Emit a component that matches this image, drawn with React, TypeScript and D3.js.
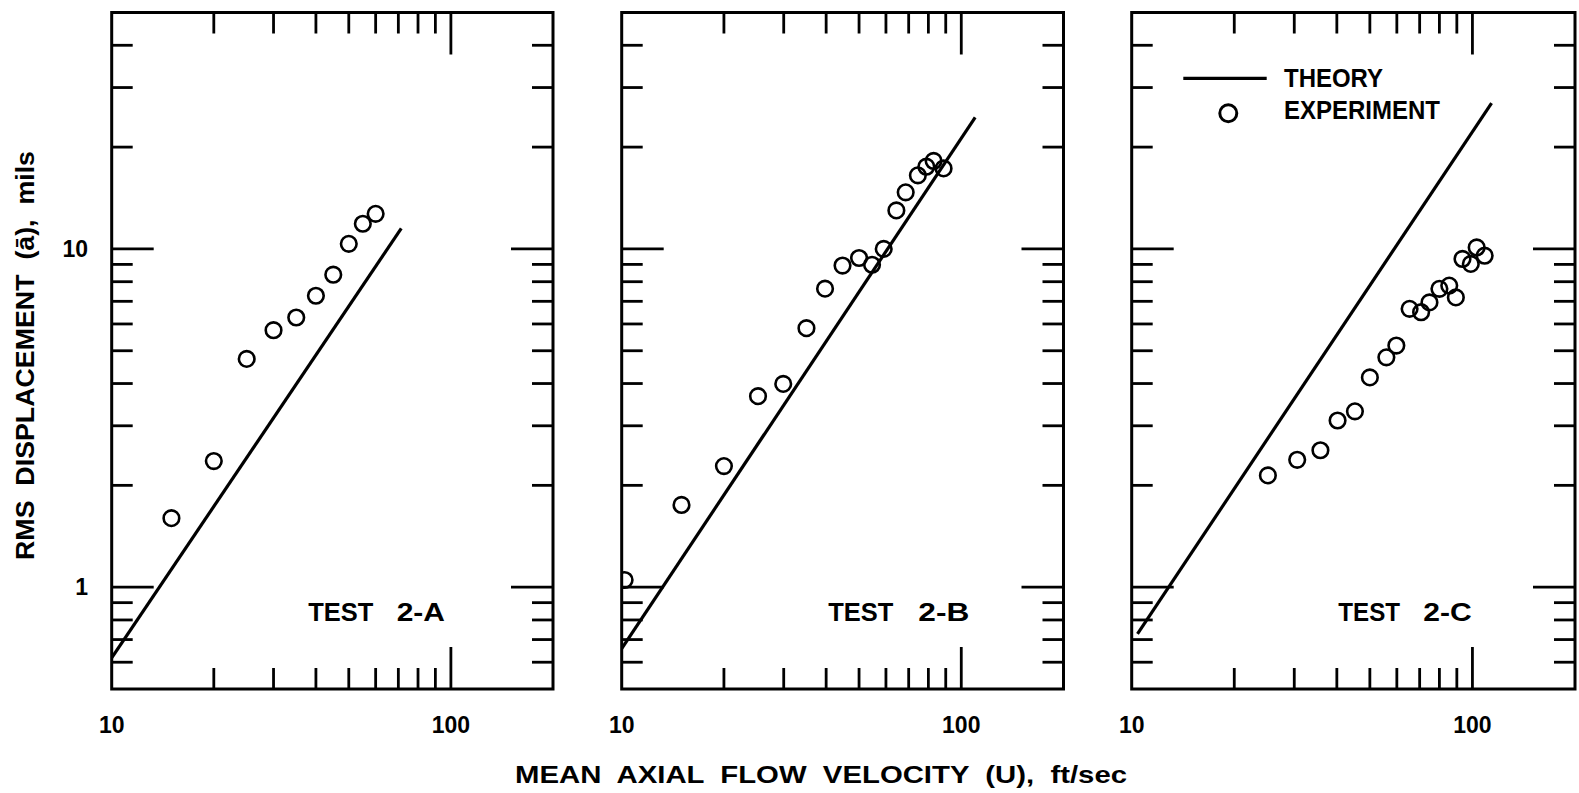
import React from "react";
import * as d3 from "d3";

// ---- data ----
const testA_u = [15, 20, 25, 30, 35, 40, 45, 50, 55, 60];
const testA_a = [1.6, 2.36, 4.73, 5.75, 6.27, 7.27, 8.39, 10.35, 11.87, 12.7];
const theoryA_u = [10, 71.4];
const theoryA_a = [0.618, 11.5];

const testB_u = [10.2, 15, 20, 25.2, 29.9, 35, 39.7, 44.7, 50, 54.6, 59.1, 64.4, 68.6, 74.5, 78.9, 82.9, 88.7];
const testB_a = [1.05, 1.75, 2.28, 3.67, 3.99, 5.83, 7.63, 8.93, 9.4, 8.98, 10.0, 13.0, 14.7, 16.5, 17.5, 18.2, 17.3];
const theoryB_u = [10, 109.9];
const theoryB_a = [0.658, 24.5];

const testC_u = [25.1, 30.6, 35.8, 40.2, 45.2, 50, 55.9, 59.8, 65.4, 70.7, 74.8, 80, 85.5, 89.4, 93.5, 98.9, 102.9, 108.6];
const testC_a = [2.14, 2.38, 2.54, 3.11, 3.31, 4.17, 4.78, 5.18, 6.65, 6.5, 6.95, 7.62, 7.79, 7.19, 9.34, 9.03, 10.1, 9.55];
const theoryC_u = [10.4, 113.8];
const theoryC_a = [0.728, 27.0];

const panelNames = ["TEST", "TEST", "TEST"];
const panelIds = ["2-A", "2-B", "2-C"];

const xDomain = [10, 200];
const yDomain = [0.5, 50];
const xMinorTicks = [20, 30, 40, 50, 60, 70, 80, 90];
const xMajorTicks = [100];
const yMinorTicks = [0.6, 0.7, 0.8, 0.9, 2, 3, 4, 5, 6, 7, 8, 9, 20, 30, 40];
const yMajorTicks = [1, 10];
const xTickLabels = [10, 100];
const yTickLabels = [1, 10];

const xTitle = "MEAN  AXIAL  FLOW  VELOCITY  (U),  ft/sec";
const yTitle = "RMS  DISPLACEMENT  (ā),  mils";
const legendTheory = "THEORY";
const legendExperiment = "EXPERIMENT";

// ---- layout ----
const W = 1579;
const H = 793;
const panelLeft = [111.7, 621.7, 1131.7];
const panelRight = [553, 1063.5, 1575];
const plotTop = 12.5;
const plotBottom = 689;
const minorLen = 21;
const majorLen = 42;
const FONT = "'Liberation Sans', Arial, Helvetica, sans-serif";

const panels = [
  { u: testA_u, a: testA_a, tu: theoryA_u, ta: theoryA_a, name: panelNames[0], id: panelIds[0], lab: [308.3, 65, 396.7, 48.3] },
  { u: testB_u, a: testB_a, tu: theoryB_u, ta: theoryB_a, name: panelNames[1], id: panelIds[1], lab: [828.3, 65, 918.3, 51] },
  { u: testC_u, a: testC_a, tu: theoryC_u, ta: theoryC_a, name: panelNames[2], id: panelIds[2], lab: [1338.3, 61.7, 1423.3, 48.4] },
];

function Panel({ p, i }: { p: any; i: number }) {
  const x = d3.scaleLog().domain(xDomain).range([panelLeft[i], panelRight[i]]);
  const y = d3.scaleLog().domain(yDomain).range([plotBottom, plotTop]);
  const L = panelLeft[i];
  const R = panelRight[i];
  const line = d3
    .line<number>()
    .x((_, k) => x(p.tu[k]))
    .y((_, k) => y(p.ta[k]));
  const clipId = `clip-${i}`;
  const tickStroke = 2.8;
  return (
    <g>
      <defs>
        <clipPath id={clipId}>
          <rect x={L} y={plotTop} width={R - L} height={plotBottom - plotTop} />
        </clipPath>
      </defs>
      {xMinorTicks.map((t) => (
        <g key={"xm" + t}>
          <line x1={x(t)} x2={x(t)} y1={plotTop} y2={plotTop + minorLen} stroke="#000" strokeWidth={tickStroke} />
          <line x1={x(t)} x2={x(t)} y1={plotBottom} y2={plotBottom - minorLen} stroke="#000" strokeWidth={tickStroke} />
        </g>
      ))}
      {xMajorTicks.map((t) => (
        <g key={"xM" + t}>
          <line x1={x(t)} x2={x(t)} y1={plotTop} y2={plotTop + majorLen} stroke="#000" strokeWidth={tickStroke} />
          <line x1={x(t)} x2={x(t)} y1={plotBottom} y2={plotBottom - majorLen} stroke="#000" strokeWidth={tickStroke} />
        </g>
      ))}
      {yMinorTicks.map((t) => (
        <g key={"ym" + t}>
          <line x1={L} x2={L + minorLen} y1={y(t)} y2={y(t)} stroke="#000" strokeWidth={tickStroke} />
          <line x1={R} x2={R - minorLen} y1={y(t)} y2={y(t)} stroke="#000" strokeWidth={tickStroke} />
        </g>
      ))}
      {yMajorTicks.map((t) => (
        <g key={"yM" + t}>
          <line x1={L} x2={L + majorLen} y1={y(t)} y2={y(t)} stroke="#000" strokeWidth={tickStroke} />
          <line x1={R} x2={R - majorLen} y1={y(t)} y2={y(t)} stroke="#000" strokeWidth={tickStroke} />
        </g>
      ))}
      <rect x={L} y={plotTop} width={R - L} height={plotBottom - plotTop} fill="none" stroke="#000" strokeWidth={3} />
      <path d={line(p.tu) || ""} fill="none" stroke="#000" strokeWidth={3.2} clipPath={`url(#${clipId})`} />
      <g clipPath={`url(#${clipId})`}>
        {p.u.map((u: number, k: number) => (
          <circle key={k} cx={x(u)} cy={y(p.a[k])} r={7.8} fill="none" stroke="#000" strokeWidth={2.6} />
        ))}
      </g>
      {xTickLabels.map((t) => (
        <text key={"xl" + t} x={x(t)} y={733} textAnchor="middle" fontFamily={FONT} fontWeight="bold" fontSize={23}>
          {t}
        </text>
      ))}
      {i === 0 &&
        yTickLabels.map((t) => (
          <text key={"yl" + t} x={88} y={y(t) + 8} textAnchor="end" fontFamily={FONT} fontWeight="bold" fontSize={23}>
            {t}
          </text>
        ))}
      <text x={p.lab[0]} y={620.5} textLength={p.lab[1]} lengthAdjust="spacingAndGlyphs" fontFamily={FONT} fontWeight="bold" fontSize={26}>
        {p.name}
      </text>
      <text x={p.lab[2]} y={620.5} textLength={p.lab[3]} lengthAdjust="spacingAndGlyphs" fontFamily={FONT} fontWeight="bold" fontSize={26}>
        {p.id}
      </text>
    </g>
  );
}

export default function App() {
  return (
    <svg
      width={W}
      height={H}
      viewBox={`0 0 ${W} ${H}`}
      style={{ position: "absolute", left: 0, top: 0, display: "block", background: "#fff" }}
    >
      <rect x={0} y={0} width={W} height={H} fill="#fff" />
      {panels.map((p, i) => (
        <Panel key={i} p={p} i={i} />
      ))}
      <line x1={1183.3} x2={1266.7} y1={78.3} y2={78.3} stroke="#000" strokeWidth={3.2} />
      <text x={1284} y={87.3} textLength={99} lengthAdjust="spacingAndGlyphs" fontFamily={FONT} fontWeight="bold" fontSize={26}>
        {legendTheory}
      </text>
      <circle cx={1228.3} cy={113.3} r={8.5} fill="none" stroke="#000" strokeWidth={3} />
      <text x={1284} y={119} textLength={156} lengthAdjust="spacingAndGlyphs" fontFamily={FONT} fontWeight="bold" fontSize={26}>
        {legendExperiment}
      </text>
      <text
        x={515}
        y={783}
        textLength={612}
        lengthAdjust="spacingAndGlyphs"
        fontFamily={FONT}
        fontWeight="bold"
        fontSize={24}
        style={{ whiteSpace: "pre" }}
      >
        {xTitle}
      </text>
      <text
        transform="translate(34,560) rotate(-90)"
        x={0}
        y={0}
        textLength={409}
        lengthAdjust="spacingAndGlyphs"
        fontFamily={FONT}
        fontWeight="bold"
        fontSize={25}
        style={{ whiteSpace: "pre" }}
      >
        {yTitle}
      </text>
    </svg>
  );
}
